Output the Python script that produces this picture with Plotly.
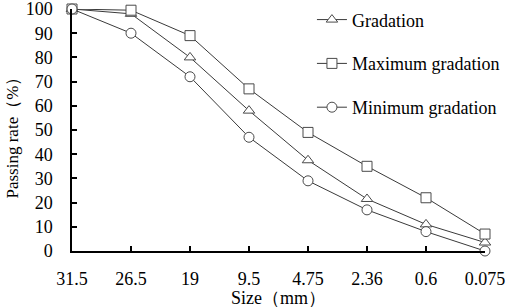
import plotly.graph_objects as go

sizes = ["31.5", "26.5", "19", "9.5", "4.75", "2.36", "0.6", "0.075"]
gradation = [100, 98, 80, 58, 37.5, 21.5, 11, 3.5]
maximum = [100, 99.5, 89, 67, 49, 35, 22, 7]
minimum = [100, 90, 72, 47, 29, 17, 8, 0]

xs = list(range(len(sizes)))
FONT = "Liberation Serif, Times New Roman, serif"
LINE = "#3a3a3a"
MEDGE = "#4a4a4a"

fig = go.Figure()
series = [
    ("Gradation", gradation, "triangle-up", 10, "legend"),
    ("Maximum gradation", maximum, "square", 10, "legend2"),
    ("Minimum gradation", minimum, "circle", 10, "legend3"),
]
for name, vals, sym, sz, lg in series:
    fig.add_trace(go.Scatter(
        x=xs, y=vals, name=name, mode="lines+markers",
        line=dict(color=LINE, width=1),
        marker=dict(symbol=sym, size=sz, color="white",
                    line=dict(color=MEDGE, width=1)),
        cliponaxis=False, legend=lg,
    ))

leg_common = dict(font=dict(family=FONT, size=18, color="black"),
                  bgcolor="rgba(0,0,0,0)", xanchor="left", yanchor="middle",
                  x=0.581, itemwidth=30)
fig.update_layout(
    width=512, height=308,
    margin=dict(l=72, r=27, t=9, b=57, autoexpand=False),
    plot_bgcolor="white", paper_bgcolor="white",
    font=dict(family=FONT, size=18, color="black"),
    legend=dict(y=0.955, **leg_common),
    legend2=dict(y=0.774, **leg_common),
    legend3=dict(y=0.593, **leg_common),
    showlegend=True,
)
fig.add_annotation(
    text="Passing rate（%）", textangle=-90, showarrow=False,
    xref="paper", yref="paper", x=-0.145, y=0.486,
    xanchor="center", yanchor="middle",
    font=dict(family=FONT, size=17, color="black"),
)
fig.update_xaxes(
    range=[0, 7], tickvals=xs, ticktext=sizes, automargin=False,
    showline=True, linecolor="black", linewidth=1.5,
    ticks="inside", ticklen=5, tickcolor="black", tickwidth=1.5,
    showgrid=False, zeroline=False, ticklabelstandoff=11,
    ticklabeloverflow="allow",
    title=dict(text="Size（mm）", font=dict(family=FONT, size=18), standoff=4),
    tickfont=dict(family=FONT, size=18),
)
fig.update_yaxes(
    range=[0, 100], tickvals=list(range(0, 101, 10)), automargin=False,
    showline=True, linecolor="black", linewidth=1.5,
    ticks="inside", ticklen=5, tickcolor="black", tickwidth=1.5,
    showgrid=False, zeroline=False, ticklabelstandoff=14,
    ticklabeloverflow="allow",
    tickfont=dict(family=FONT, size=18),
)
fig.write_html("out.html", config={"displayModeBar": False},
               post_script="document.body.style.margin='0px';")
